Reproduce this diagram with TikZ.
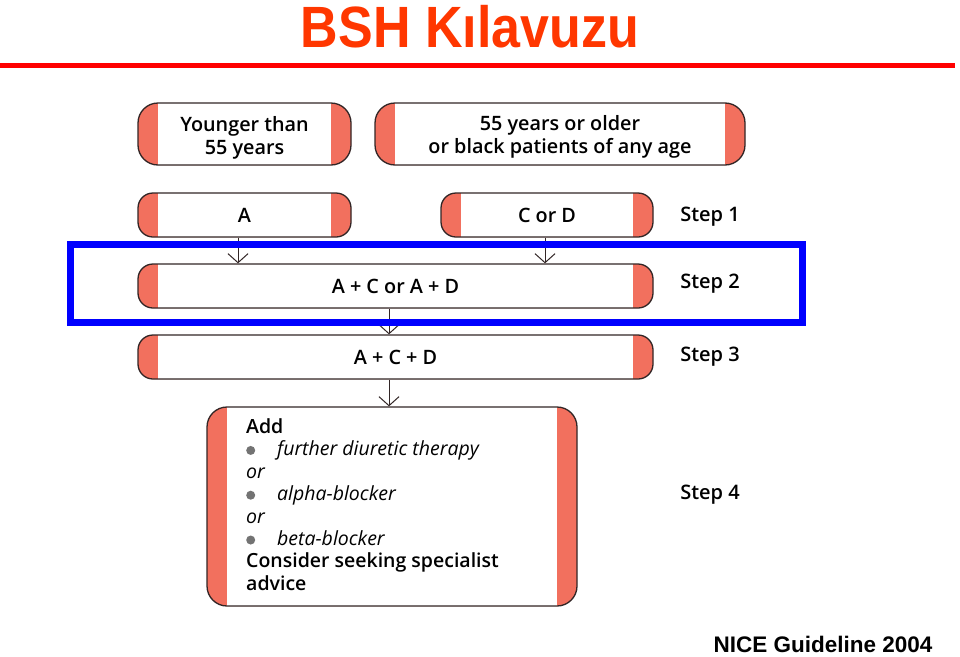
\documentclass[tikz,border=0pt]{standalone}
\usepackage{fontspec}
\setmainfont{Open Sans}[BoldFont={Open Sans Semibold}]
\newfontfamily\titlefont{Liberation Sans}
\usetikzlibrary{arrows.meta}
\definecolor{salmon}{RGB}{242,112,94}
\definecolor{boxline}{RGB}{50,38,38}
\definecolor{titlered}{RGB}{255,55,0}
\definecolor{bulgray}{RGB}{115,115,115}
\newcommand\mybul{\makebox[31pt][l]{\raisebox{1pt}{\tikz\fill[bulgray] (0,0) circle (4.5pt);}}}
\tikzset{
  pill/.style={draw=boxline, line width=1.3pt, fill=salmon, rounded corners=#1,
    inner sep=0pt, text=black,
    path picture={
      \fill[white, sharp corners] ([xshift=20pt,yshift=3pt]path picture bounding box.north west) rectangle ([xshift=-20pt,yshift=-3pt]path picture bounding box.south east);
    }},
  pill/.default=15pt,
  boxtext/.style={font=\fontsize{19.8}{23}\selectfont\bfseries, align=center},
  steplbl/.style={font=\fontsize{20}{22}\selectfont\bfseries},
  arr/.style={draw=boxline, line width=1pt, -{Straight Barb[length=9pt,width=20pt,line width=1pt]}},
}
\begin{document}
\begin{tikzpicture}[x=1pt,y=-1pt]
\useasboundingbox[fill=white] (0,0) rectangle (960,656);
% title
\node[font=\titlefont\fontsize{52}{56}\selectfont\bfseries, text=titlered] (title) at (470,27) {\scalebox{1}[1.12]{BSH Kılavuzu}};
\fill[red] (0,62.5) rectangle (955,67.5);
\node[font=\titlefont\fontsize{22.5}{26}\selectfont\bfseries, anchor=base east] (nice) at (936,652) {NICE Guideline 2004};
% row 0
\node[pill=20pt, minimum width=213pt, minimum height=62pt] (young) at (244.5,134) {};
\node[boxtext] (youngt) at (244.5,138) {Younger than\\55 years};
\node[pill=20pt, minimum width=370pt, minimum height=62pt] (old) at (560,134) {};
\node[boxtext] (oldt) at (560,137) {55 years or older\\or black patients of any age};
% step 1
\node[pill, minimum width=213pt, minimum height=44pt, boxtext] (a) at (244.5,215) {A};
\node[pill, minimum width=212pt, minimum height=44pt, boxtext] (cd) at (547,215) {C or D};
\node[steplbl] (s1) at (710,217) {Step 1};
% step 2
\node[pill, minimum width=515pt, minimum height=44pt, boxtext] (s2box) at (395.5,286) {A + C or A + D};
\node[steplbl] (s2) at (710,284) {Step 2};
% step 3
\node[pill, minimum width=515pt, minimum height=44pt, boxtext] (s3box) at (395.5,357) {A + C + D};
\node[steplbl] (s3) at (710,357) {Step 3};
% step 4
\node[pill=20pt, minimum width=370pt, minimum height=199pt] (s4box) at (392,506.5) {};
\node[anchor=north west, align=left, inner sep=0pt, font=\fontsize{19.5}{22.4}\selectfont] (s4text) at (246,418.5)
 {\textbf{Add}\\
  \mybul\textit{further diuretic therapy}\\
  \textit{or}\\
  \mybul\textit{alpha-blocker}\\
  \textit{or}\\
  \mybul\textit{beta-blocker}\\
  \textbf{Consider seeking specialist}\\
  \textbf{advice}};
\node[steplbl] (s4) at (710,495) {Step 4};
% arrows
\draw[arr] (a.south -| 238,0) -- (s2box.north -| 238,0);
\draw[arr] (cd.south -| 545,0) -- (s2box.north -| 545,0);
\draw[arr] (s2box.south -| 389,0) -- (s3box.north -| 389,0);
\draw[arr] (s3box.south -| 389,0) -- (s4box.north -| 389,0);
% highlight frame
\draw[blue, line width=7pt] (70.5,244.5) rectangle (802.5,322.5);
\end{tikzpicture}
\end{document}
